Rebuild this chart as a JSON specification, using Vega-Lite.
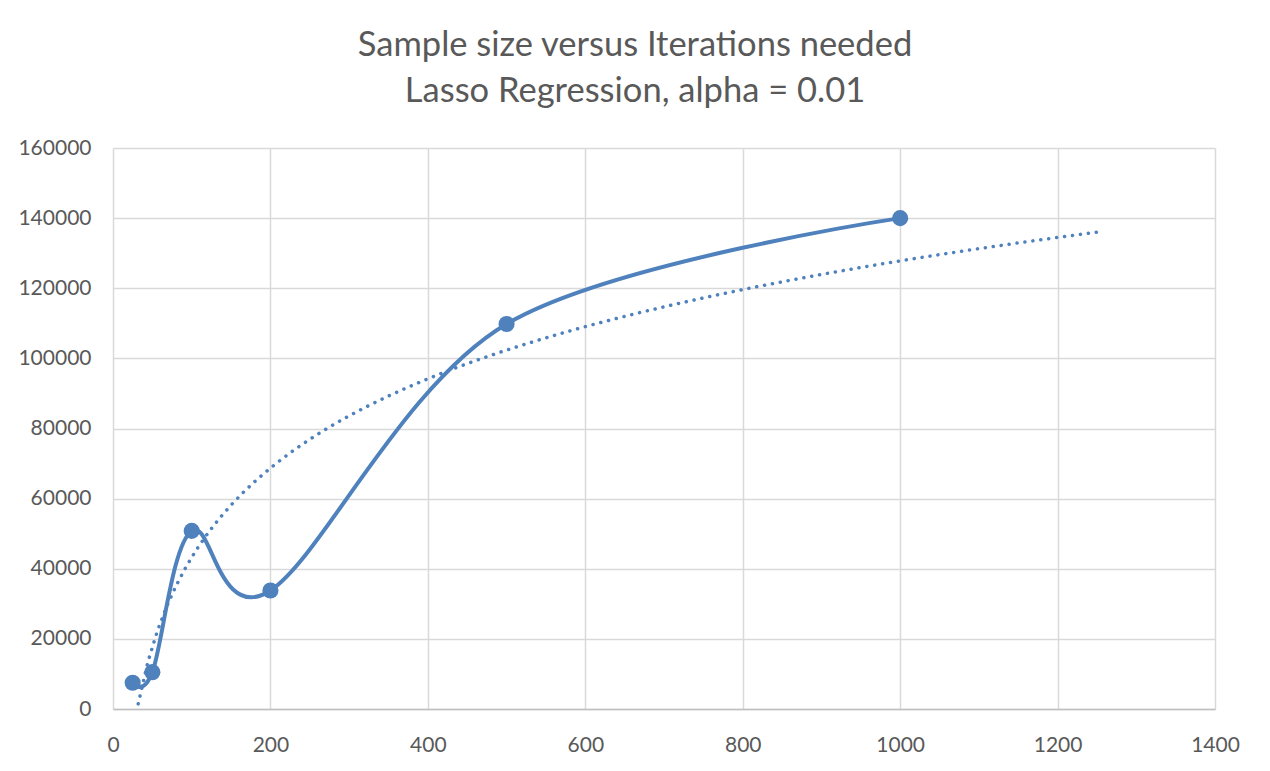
{
  "$schema": "https://vega.github.io/schema/vega-lite/v6.json",
  "width": 1102,
  "height": 561,
  "autosize": {"type": "none"},
  "padding": {"left": 113, "top": 148, "right": 55, "bottom": 62},
  "background": "white",
  "title": {
    "text": ["Sample size versus Iterations needed", "Lasso Regression, alpha = 0.01"],
    "anchor": "middle",
    "font": "Lato",
    "fontSize": 34.5,
    "fontWeight": "normal",
    "color": "#595959",
    "lineHeight": 46,
    "offset": 28,
    "dx": -29
  },
  "data": {
    "values": [
      {"size": 25, "iterations": 7500},
      {"size": 50, "iterations": 10500},
      {"size": 100, "iterations": 50800},
      {"size": 200, "iterations": 33800},
      {"size": 500, "iterations": 109800},
      {"size": 1000, "iterations": 140000}
    ]
  },
  "encoding": {
    "x": {
      "field": "size", "type": "quantitative",
      "scale": {"domain": [0, 1400], "nice": false},
      "axis": {"values": [0, 200, 400, 600, 800, 1000, 1200, 1400], "title": null, "format": "d", "domainColor": "#bfbfbf", "domainWidth": 1.5}
    },
    "y": {
      "field": "iterations", "type": "quantitative",
      "scale": {"domain": [0, 160000], "nice": false},
      "axis": {"values": [0, 20000, 40000, 60000, 80000, 100000, 120000, 140000, 160000], "title": null, "domain": false, "format": "d"}
    }
  },
  "layer": [
    {
      "mark": {"type": "line", "interpolate": "cardinal", "color": "#4F81BD", "strokeWidth": 4}
    },
    {
      "mark": {"type": "point", "shape": "circle", "filled": true, "opacity": 1, "size": 260, "color": "#4F81BD"}
    },
    {
      "transform": [{"regression": "iterations", "on": "size", "method": "log", "extent": [32, 1250]}],
      "mark": {"type": "line", "color": "#4F81BD", "strokeWidth": 3.5, "strokeDash": [0.1, 7.9], "strokeCap": "round"}
    }
  ],
  "config": {
    "view": {"stroke": null},
    "axis": {
      "labelFont": "Lato",
      "labelFontSize": 21,
      "labelColor": "#595959",
      "ticks": false,
      "gridColor": "#d9d9d9",
      "gridWidth": 1.5,
      "labelFlush": false,
      "labelOverlap": false
    },
    "axisX": {"labelPadding": 25},
    "axisY": {"labelPadding": 22}
  }
}
